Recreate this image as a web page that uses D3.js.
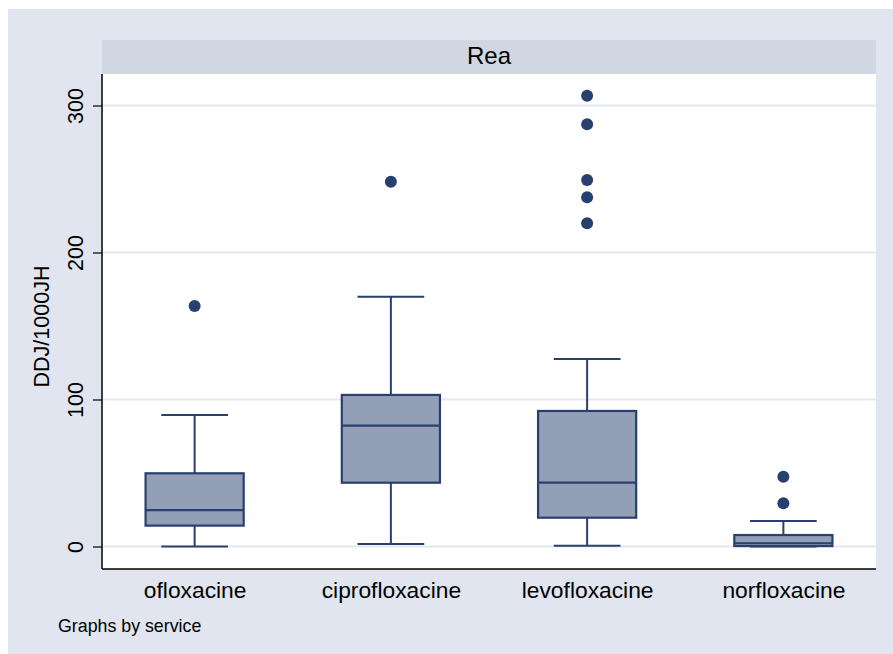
<!DOCTYPE html>
<html>
<head>
<meta charset="utf-8">
<script src="https://cdn.jsdelivr.net/npm/d3@7"></script>
<style>
  html, body { margin: 0; padding: 0; background: #ffffff; }
  svg { display: block; font-family: "Liberation Sans", Arial, sans-serif; }
</style>
</head>
<body>
<svg id="chart" width="893" height="654"></svg>
<script>
// Drug categories shown along the x axis
const categories = ["ofloxacine", "ciprofloxacine", "levofloxacine", "norfloxacine"];
// Box summaries (DDJ/1000JH)
const lowerWhisker = [0, 1.7, 0.5, 0];
const q1 = [14.2, 43.4, 19.6, 0.3];
const median = [24.8, 82.2, 43.4, 2.2];
const q3 = [49.8, 103.1, 92.2, 7.8];
const upperWhisker = [89.5, 169.9, 127.6, 17.3];
const outliers = [
  [163.6],
  [248.2],
  [306.7, 287.2, 249.3, 237.6, 219.9],
  [47.5, 29.4]
];
const yTicks = [0, 100, 200, 300];
const panelTitle = "Rea";
const yTitle = "DDJ/1000JH";
const note = "Graphs by service";

const navy = "#27406f";
const boxFill = "#939fb6";

const svg = d3.select("#chart");

// Outer graph region
svg.append("rect").attr("x", 8).attr("y", 9).attr("width", 885).attr("height", 645).attr("fill", "#e0e5ef");

const plot = { left: 102, right: 876, top: 74, bottom: 569 };

// Panel header
svg.append("rect").attr("x", plot.left).attr("y", 40).attr("width", plot.right - plot.left).attr("height", 34).attr("fill", "#d0d6e2");
svg.append("text").attr("x", (plot.left + plot.right) / 2).attr("y", 64)
  .attr("text-anchor", "middle").attr("font-size", 24).attr("fill", "#000").text(panelTitle);

// Plot region
svg.append("rect").attr("x", plot.left).attr("y", plot.top).attr("width", plot.right - plot.left)
  .attr("height", plot.bottom - plot.top).attr("fill", "#ffffff");

const y = d3.scaleLinear().domain([0, 300]).range([546.5, 105.5]);
const x = d3.scalePoint().domain(categories).range([plot.left, plot.right]).padding(0.472);
const step = x.step();
const boxW = step * 0.5;
const capW = step * 0.34;

// Gridlines
svg.append("g").selectAll("line").data(yTicks).join("line")
  .attr("x1", plot.left).attr("x2", plot.right)
  .attr("y1", d => y(d)).attr("y2", d => y(d))
  .attr("stroke", "#e3e7f0").attr("stroke-width", 2);

// Y axis
const yAxis = svg.append("g").attr("transform", `translate(${plot.left},0)`)
  .call(d3.axisLeft(y).tickValues(yTicks).tickSize(9).tickPadding(0).tickFormat(d3.format("d")));
yAxis.select(".domain").remove();
yAxis.selectAll(".tick line").attr("stroke", "#000").attr("stroke-width", 1.2);
yAxis.selectAll(".tick text")
  .attr("transform", "translate(-19,0) rotate(-90)")
  .attr("x", 0).attr("y", 0).attr("dy", 0)
  .attr("text-anchor", "middle")
  .attr("font-size", 21.5).attr("fill", "#000")
  .attr("font-family", "Liberation Sans, Arial, sans-serif");

svg.append("line").attr("x1", plot.left).attr("x2", plot.left).attr("y1", plot.top).attr("y2", plot.bottom)
  .attr("stroke", "#000").attr("stroke-width", 1.5);
svg.append("line").attr("x1", plot.left).attr("x2", plot.right).attr("y1", plot.bottom).attr("y2", plot.bottom)
  .attr("stroke", "#000").attr("stroke-width", 1.5);

// Y title
svg.append("text").attr("transform", `translate(49,${(plot.top + plot.bottom) / 2 + 5}) rotate(-90)`)
  .attr("text-anchor", "middle").attr("font-size", 21.5).attr("fill", "#000").text(yTitle);

// X labels
const xAxis = svg.append("g").attr("transform", `translate(0,${plot.bottom})`)
  .call(d3.axisBottom(x).tickSize(0).tickPadding(0));
xAxis.select(".domain").remove();
xAxis.selectAll(".tick text").attr("dy", 0).attr("y", 29)
  .attr("font-size", 22.8).attr("fill", "#000")
  .attr("font-family", "Liberation Sans, Arial, sans-serif");

// Boxes
const rows = categories.map((c, i) => ({
  c, lo: lowerWhisker[i], q1: q1[i], med: median[i], q3: q3[i], hi: upperWhisker[i], out: outliers[i]
}));
const g = svg.append("g");
rows.forEach(r => {
  const cx = x(r.c);
  // whiskers
  g.append("line").attr("x1", cx).attr("x2", cx).attr("y1", y(r.q3)).attr("y2", y(r.hi))
    .attr("stroke", navy).attr("stroke-width", 2);
  g.append("line").attr("x1", cx).attr("x2", cx).attr("y1", y(r.q1)).attr("y2", y(r.lo))
    .attr("stroke", navy).attr("stroke-width", 2);
  g.append("line").attr("x1", cx - capW / 2).attr("x2", cx + capW / 2).attr("y1", y(r.hi)).attr("y2", y(r.hi))
    .attr("stroke", navy).attr("stroke-width", 2);
  g.append("line").attr("x1", cx - capW / 2).attr("x2", cx + capW / 2).attr("y1", y(r.lo)).attr("y2", y(r.lo))
    .attr("stroke", navy).attr("stroke-width", 2);
  // box
  g.append("rect").attr("x", cx - boxW / 2).attr("width", boxW)
    .attr("y", y(r.q3)).attr("height", y(r.q1) - y(r.q3))
    .attr("fill", boxFill).attr("stroke", navy).attr("stroke-width", 2.2);
  g.append("line").attr("x1", cx - boxW / 2).attr("x2", cx + boxW / 2).attr("y1", y(r.med)).attr("y2", y(r.med))
    .attr("stroke", navy).attr("stroke-width", 2.2);
  // outliers
  g.selectAll(null).data(r.out).join("circle")
    .attr("cx", cx).attr("cy", d => y(d)).attr("r", 6).attr("fill", navy);
});

// Note
svg.append("text").attr("x", 58).attr("y", 632).attr("font-size", 17.8).attr("fill", "#000").text(note);
</script>
</body>
</html>
